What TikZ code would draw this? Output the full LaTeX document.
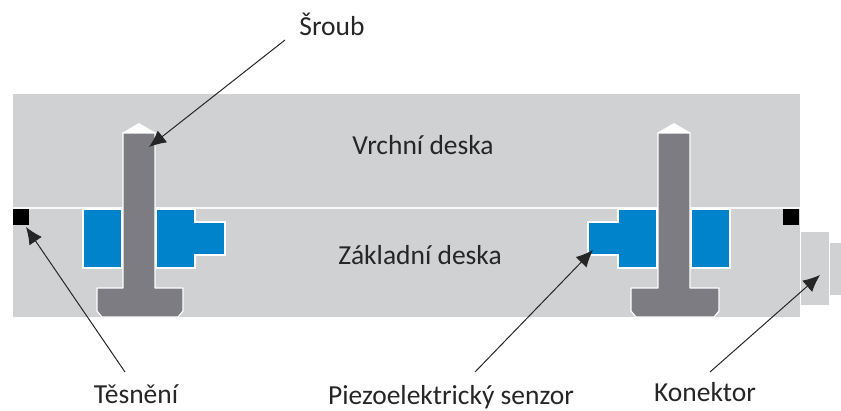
\documentclass[tikz,border=0pt]{standalone}
\usepackage{fontspec}
\setmainfont{Carlito}
\usetikzlibrary{arrows.meta}
\definecolor{plate}{HTML}{D0D1D3}
\definecolor{boltc}{HTML}{7D7C82}
\definecolor{sensor}{HTML}{0083CA}
\tikzset{
  boltshape/.style={fill=boltc,draw=white,line width=1.2pt,line join=round},
  sensorshape/.style={fill=sensor,draw=white,line width=1.2pt},
  seal/.style={fill=black,draw=none},
  lbl/.style={font=\fontsize{27.5}{27.5}\selectfont,text=black!85,inner sep=0pt,anchor=base},
  pointer/.style={draw=black!85,line width=1pt,-{Latex[length=17pt,width=15pt]}},
}
\begin{document}
\begin{tikzpicture}[x=1pt,y=-1pt]
\useasboundingbox (0,0) rectangle (841,410);
% plates
\fill[plate] (13,94) rectangle (800,317);
\draw[white!85!plate,line width=1.6pt] (13,208) -- (800,208);
% connector
\fill[plate] (801,232) rectangle (829,305);
\fill[plate] (830,243) rectangle (841,295);
% sensors, left bolt
\draw[sensorshape] (83,209) rectangle (122,268);
\draw[sensorshape] (156,209) -- (195,209) -- (195,222) -- (225,222) -- (225,255) -- (195,255) -- (195,268) -- (156,268) -- cycle;
% sensors, right bolt
\draw[sensorshape] (691,209) rectangle (730,268);
\draw[sensorshape] (657,209) -- (618,209) -- (618,222) -- (588,222) -- (588,255) -- (618,255) -- (618,268) -- (657,268) -- cycle;
% bolts
\fill[white] (122,133) -- (139,123) -- (156,133) -- cycle;
\draw[boltshape] (123,133) -- (155,133) -- (155,288) -- (183,288) -- (183,311) -- (178,317) -- (102,317) -- (97,311) -- (97,288) -- (123,288) -- cycle;
\fill[white] (657,133) -- (674,123) -- (691,133) -- cycle;
\draw[boltshape] (658,133) -- (690,133) -- (690,288) -- (719,288) -- (719,311) -- (714,317) -- (636,317) -- (631,311) -- (631,288) -- (658,288) -- cycle;
% seals
\fill[seal] (13,209) rectangle (29,225);
\fill[seal] (783,209) rectangle (799,225);
% labels
\node[lbl] (sroub) at (332,35) {Šroub};
\node[lbl] (vrchni) at (423,154) {Vrchní deska};
\node[lbl] (zakladni) at (420,264) {Základní deska};
\node[lbl] (tesneni) at (136,403) {Těsnění};
\node[lbl] (piezo) at (451,404) {Piezoelektrický senzor};
\node[lbl] (konektor) at (705,401) {Konektor};
% pointer ends
\coordinate (a1) at (285,40);
\coordinate (a2) at (149,147);
\coordinate (b1) at (125,372);
\coordinate (b2) at (26,227);
\coordinate (c1) at (475,372);
\coordinate (c2) at (593,250);
\coordinate (d1) at (710,372);
\coordinate (d2) at (820,275);
\draw[pointer] (a1) -- (a2);
\draw[pointer] (b1) -- (b2);
\draw[pointer] (c1) -- (c2);
\draw[pointer] (d1) -- (d2);
\end{tikzpicture}
\end{document}
